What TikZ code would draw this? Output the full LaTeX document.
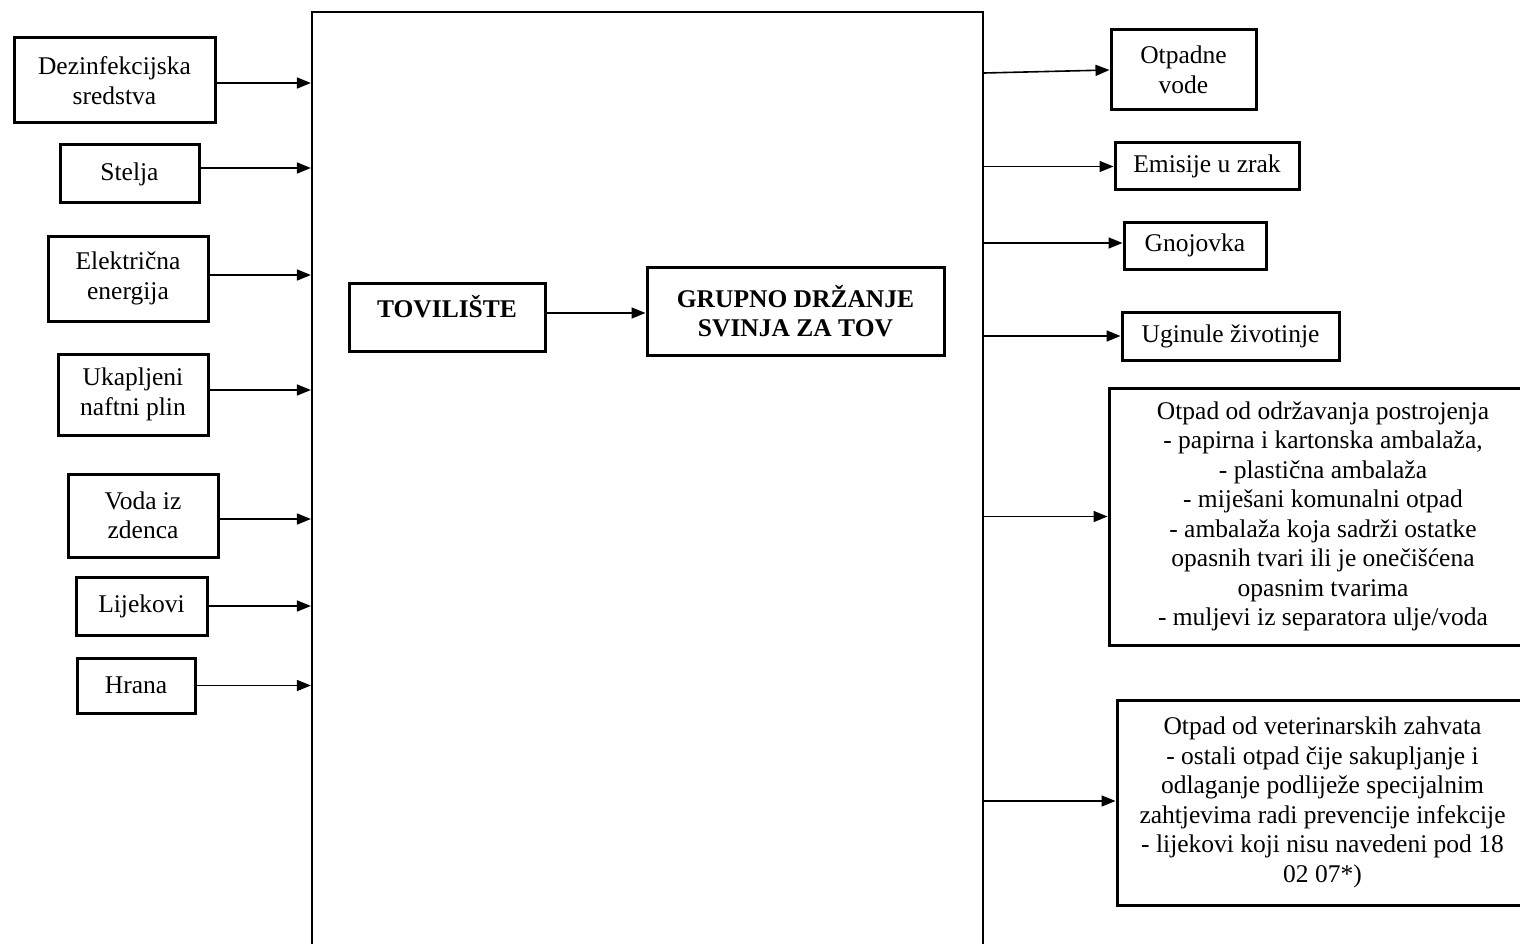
\documentclass[tikz,border=0pt]{standalone}
\usepackage{fontspec}
\setmainfont{Liberation Serif}
\usetikzlibrary{arrows.meta}
\begin{document}
\begin{tikzpicture}[x=1pt,y=-1pt,
  box/.style={draw, line width=3pt, inner sep=0pt, align=center,
              font=\fontsize{25.5}{29.5}\selectfont},
  bigbox/.style={draw, line width=2.2pt, inner sep=0pt},
  conn/.style={line width=1.6pt, -{Triangle[length=14pt,width=11pt]}},
]
\fill[white] (0,0) rectangle (1520,944);
\useasboundingbox (0,0) rectangle (1520,944);

% main frame (bottom edge lies below the page)
\node[bigbox, minimum width=671pt, minimum height=950pt] (main) at (647.5,487) {};

% inputs
\node[box, minimum width=201pt, minimum height=85pt] (dez) at (114.5,80.5) {Dezinfekcijska\\sredstva};
\node[box, minimum width=139pt, minimum height=58pt] (stelja) at (129.5,174) {Stelja};
\node[box, minimum width=160pt, minimum height=85pt] (elek) at (128,278.5) {Električna\\energija};
\node[box, minimum width=150pt, minimum height=81pt] (ukap) at (133,394.5) {Ukapljeni\\naftni plin};
\node[box, minimum width=150pt, minimum height=83pt] (voda) at (143,515.5) {Voda iz\\zdenca};
\node[box, minimum width=131pt, minimum height=58pt] (lijek) at (141.5,606) {Lijekovi};
\node[box, minimum width=118pt, minimum height=55pt] (hrana) at (136,685.5) {Hrana};

% inner boxes
\node[box, minimum width=196pt, minimum height=68pt, text depth=22pt, font=\fontsize{25.5}{29.5}\selectfont\bfseries] (tov) at (447,317) {TOVILIŠTE};
\node[box, minimum width=297pt, minimum height=88pt, font=\fontsize{25.5}{29.5}\selectfont\bfseries] (grup) at (795.5,311) {GRUPNO DRŽANJE\\SVINJA ZA TOV};

% outputs
\node[box, minimum width=145pt, minimum height=80pt] (otp) at (1183.5,70) {Otpadne\\vode};
\node[box, minimum width=184pt, minimum height=47pt] (emis) at (1207,166.5) {Emisije u zrak};
\node[box, minimum width=142pt, minimum height=47pt] (gnoj) at (1195,245.5) {Gnojovka};
\node[box, minimum width=217pt, minimum height=48pt] (ugin) at (1230.5,336) {Uginule životinje};
\node[box, minimum width=428pt, minimum height=257pt] (odr) at (1323,516.5) {Otpad od održavanja postrojenja\\- papirna i kartonska ambalaža,\\- plastična ambalaža\\- miješani komunalni otpad\\- ambalaža koja sadrži ostatke\\opasnih tvari ili je onečišćena\\opasnim tvarima\\- muljevi iz separatora ulje/voda};
\node[box, minimum width=411pt, minimum height=205pt] (vet) at (1322.5,802.5) {Otpad od veterinarskih zahvata\\- ostali otpad čije sakupljanje i\\odlaganje podliježe specijalnim\\zahtjevima radi prevencije infekcije\\- lijekovi koji nisu navedeni pod 18\\02 07*)};

% input connectors (yshift acts on the canvas: positive = up)
\draw[conn] ([yshift=-2.5pt]dez.east) -- ([yshift=-2.5pt]dez.east -| main.west);
\draw[conn] ([yshift=6pt]stelja.east) -- ([yshift=6pt]stelja.east -| main.west);
\draw[conn] ([yshift=3.5pt]elek.east) -- ([yshift=3.5pt]elek.east -| main.west);
\draw[conn] ([yshift=4.5pt]ukap.east) -- ([yshift=4.5pt]ukap.east -| main.west);
\draw[conn] ([yshift=-3.5pt]voda.east) -- ([yshift=-3.5pt]voda.east -| main.west);
\draw[conn] (lijek.east) -- (lijek.east -| main.west);
\draw[conn] (hrana.east) -- (hrana.east -| main.west);

% inner connector
\draw[conn] ([yshift=4pt]tov.east) -- ([yshift=4pt]tov.east -| grup.west);

% output connectors
\draw[conn] ([yshift=-3pt]otp.west -| main.east) -- (otp.west);
\draw[conn] (emis.west -| main.east) -- (emis.west);
\draw[conn] ([yshift=2.5pt]gnoj.west -| main.east) -- ([yshift=2.5pt]gnoj.west);
\draw[conn] (ugin.west -| main.east) -- (ugin.west);
\draw[conn] (odr.west -| main.east) -- (odr.west);
\draw[conn] ([yshift=1.5pt]vet.west -| main.east) -- ([yshift=1.5pt]vet.west);
\end{tikzpicture}
\end{document}
